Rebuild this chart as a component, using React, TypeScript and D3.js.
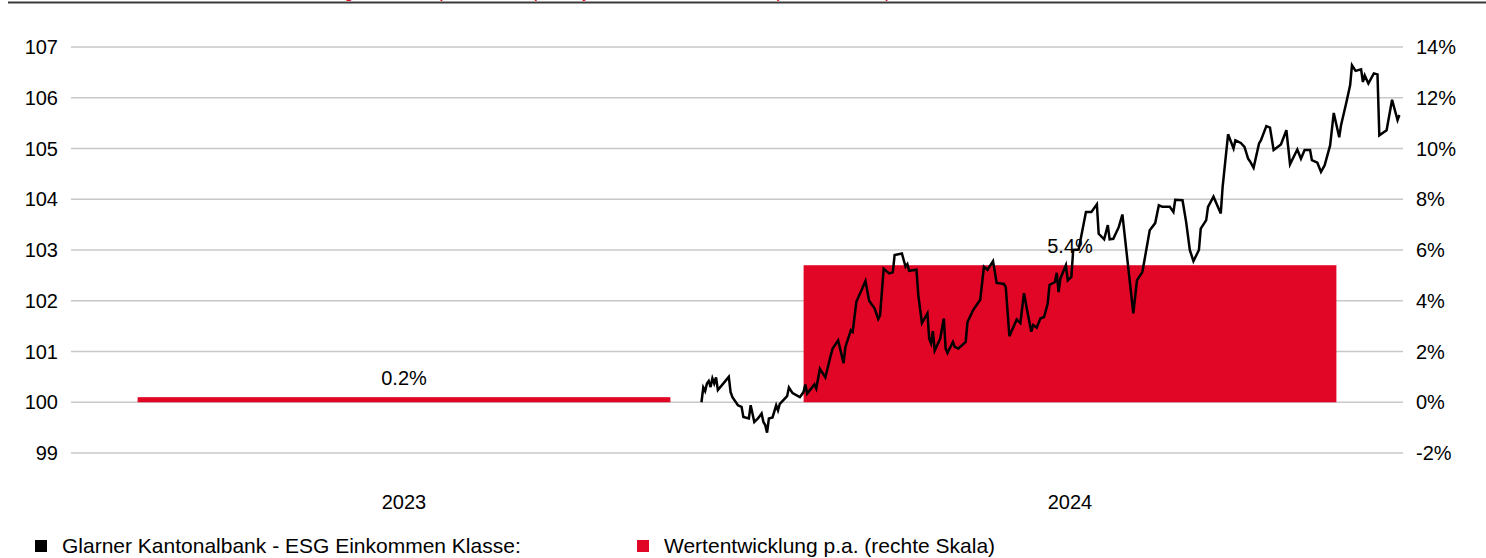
import React from "react";
import * as d3 from "d3";

const W = 1486;
const H = 558;

const titleText = "Wertentwicklung indexiert (linke Skala) und jährliche Performance (rechte Skala)";

const years = ["2023", "2024"];
const yearlyPerf = [0.2, 5.4];
const yearLabels = ["0.2%", "5.4%"];

const leftTicks = [99, 100, 101, 102, 103, 104, 105, 106, 107];
const rightTicks = [-2, 0, 2, 4, 6, 8, 10, 12, 14];

const legendLabels = [
  "Glarner Kantonalbank - ESG Einkommen Klasse:",
  "Wertentwicklung p.a. (rechte Skala)",
];
const legendColors = ["#000000", "#e10625"];

const fundDates = [
  "2023-12-13", "2023-12-14", "2023-12-15", "2023-12-16", "2023-12-17", "2023-12-18",
  "2023-12-19", "2023-12-20", "2023-12-21", "2023-12-22", "2023-12-28", "2023-12-29",
  "2023-12-30", "2024-01-02", "2024-01-04", "2024-01-05", "2024-01-08", "2024-01-09",
  "2024-01-10", "2024-01-11", "2024-01-13", "2024-01-15", "2024-01-16", "2024-01-17",
  "2024-01-18", "2024-01-19", "2024-01-21", "2024-01-23", "2024-01-24", "2024-01-25",
  "2024-01-29", "2024-01-30", "2024-02-01", "2024-02-05", "2024-02-07", "2024-02-08",
  "2024-02-09", "2024-02-13", "2024-02-14", "2024-02-16", "2024-02-19", "2024-02-22",
  "2024-02-23", "2024-02-26", "2024-02-29", "2024-03-01", "2024-03-04", "2024-03-05",
  "2024-03-07", "2024-03-10", "2024-03-12", "2024-03-14", "2024-03-17", "2024-03-19",
  "2024-03-20", "2024-03-22", "2024-03-25", "2024-03-27", "2024-03-28", "2024-04-01",
  "2024-04-03", "2024-04-04", "2024-04-05", "2024-04-09", "2024-04-10", "2024-04-12",
  "2024-04-15", "2024-04-16", "2024-04-17", "2024-04-18", "2024-04-19", "2024-04-22",
  "2024-04-24", "2024-04-25", "2024-04-26", "2024-04-29", "2024-04-30", "2024-05-02",
  "2024-05-06", "2024-05-07", "2024-05-10", "2024-05-14", "2024-05-16", "2024-05-18",
  "2024-05-21", "2024-05-23", "2024-05-27", "2024-05-28", "2024-05-30", "2024-06-03",
  "2024-06-05", "2024-06-07", "2024-06-09", "2024-06-11", "2024-06-12", "2024-06-14",
  "2024-06-16", "2024-06-18", "2024-06-20", "2024-06-21", "2024-06-24", "2024-06-25",
  "2024-06-26", "2024-06-27", "2024-06-30", "2024-07-01", "2024-07-03", "2024-07-04",
  "2024-07-07", "2024-07-11", "2024-07-14", "2024-07-17", "2024-07-18", "2024-07-21",
  "2024-07-23", "2024-07-24", "2024-07-26", "2024-07-29", "2024-07-31", "2024-08-04",
  "2024-08-06", "2024-08-08", "2024-08-11", "2024-08-15", "2024-08-18", "2024-08-20",
  "2024-08-22", "2024-08-26", "2024-08-28", "2024-08-29", "2024-09-02", "2024-09-04",
  "2024-09-06", "2024-09-08", "2024-09-11", "2024-09-12", "2024-09-15", "2024-09-16",
  "2024-09-19", "2024-09-23", "2024-09-24", "2024-09-27", "2024-09-30", "2024-10-01",
  "2024-10-04", "2024-10-06", "2024-10-08", "2024-10-09", "2024-10-11", "2024-10-14",
  "2024-10-15", "2024-10-18", "2024-10-20", "2024-10-22", "2024-10-26", "2024-10-29",
  "2024-10-31", "2024-11-04", "2024-11-06", "2024-11-08", "2024-11-11", "2024-11-12",
  "2024-11-15", "2024-11-17", "2024-11-19", "2024-11-22", "2024-11-24", "2024-11-27",
  "2024-11-28", "2024-12-01", "2024-12-03", "2024-12-04", "2024-12-06", "2024-12-09",
  "2024-12-10", "2024-12-11", "2024-12-13", "2024-12-16", "2024-12-18", "2024-12-19",
  "2024-12-23", "2024-12-26", "2024-12-29", "2024-12-30",
];

const fundValues = [
  100.0, 100.29, 100.22, 100.37, 100.42, 100.3,
  100.47, 100.37, 100.49, 100.24, 100.5, 100.2,
  100.1, 99.94, 99.91, 99.71, 99.68, 99.94,
  99.78, 99.61, 99.68, 99.78, 99.61, 99.55,
  99.4, 99.68, 99.7, 99.94, 99.84, 99.97,
  100.12, 100.29, 100.18, 100.1, 100.2, 100.35,
  100.17, 100.35, 100.27, 100.66, 100.49, 100.93,
  101.06, 101.22, 100.77, 101.09, 101.42, 101.39,
  101.98, 102.22, 102.39, 102.0, 101.85, 101.64,
  101.71, 102.63, 102.54, 102.56, 102.9, 102.93,
  102.67, 102.72, 102.59, 102.61, 102.11, 101.56,
  101.75, 101.25, 101.16, 101.4, 101.02, 101.25,
  101.65, 101.06, 100.97, 101.19, 101.09, 101.06,
  101.19, 101.58, 101.81, 102.02, 102.67, 102.61,
  102.78, 102.35, 102.33, 102.27, 101.3, 101.63,
  101.56, 102.15, 101.76, 101.39, 101.52, 101.47,
  101.65, 101.68, 101.94, 102.31, 102.37, 102.55,
  102.17, 102.44, 102.7, 102.4, 102.47, 103.0,
  103.01, 103.75, 103.75, 103.9, 103.32, 103.21,
  103.49, 103.21, 103.22, 103.45, 103.7, 102.4,
  101.75, 102.4, 102.57, 103.39, 103.53, 103.88,
  103.85, 103.85, 103.75, 103.99, 103.98, 103.55,
  103.0, 102.78, 103.0, 103.42, 103.59, 103.85,
  104.05, 103.72, 104.24, 105.28, 105.0, 105.16,
  105.11, 105.03, 104.8, 104.75, 104.62, 105.1,
  105.16, 105.44, 105.41, 104.97, 105.08, 105.36,
  104.69, 104.98, 104.8, 104.97, 104.97, 104.77,
  104.72, 104.54, 104.67, 105.06, 105.7, 105.22,
  105.46, 105.92, 106.25, 106.64, 106.53, 106.56,
  106.31, 106.44, 106.28, 106.48, 106.46, 105.26,
  105.36, 105.96, 105.56, 105.66,
];

const FONT = "'Liberation Sans', Arial, Helvetica, sans-serif";

export default function App() {
  const left = 71;
  const right = 1403;
  const top = 47;
  const bottom = 453;

  const parse = d3.timeParse("%Y-%m-%d");
  const xTime = d3
    .scaleTime()
    .domain([parse("2023-01-01")!, parse("2025-01-01")!])
    .range([left, right]);
  const xBand = d3
    .scaleBand<string>()
    .domain(years)
    .range([left, right])
    .paddingInner(0.2)
    .paddingOuter(0.1);
  const yL = d3.scaleLinear().domain([99, 107]).range([bottom, top]);
  const yR = d3.scaleLinear().domain([-2, 14]).range([bottom, top]);

  const pts = fundDates.map((d, i) => [parse(d)!, fundValues[i]] as [Date, number]);
  const line = d3
    .line<[Date, number]>()
    .x((d) => xTime(d[0]))
    .y((d) => yL(d[1]));

  const fs = 20;

  return (
    <svg
      width={W}
      height={H}
      style={{ position: "absolute", left: 0, top: 0, background: "#fff" }}
      fontFamily={FONT}
    >
      <rect x={0} y={0} width={W} height={H} fill="#fff" />
      <text x={215} y={-3.5} fontSize={19} fill="#e10625">
        {titleText}
      </text>
      <line x1={8} x2={W} y1={2.5} y2={2.5} stroke="#3a3a3a" strokeWidth={2} />

      {leftTicks.map((t) => (
        <line
          key={"g" + t}
          x1={left}
          x2={right}
          y1={yL(t)}
          y2={yL(t)}
          stroke="#c8c8c8"
          strokeWidth={1.5}
        />
      ))}
      {leftTicks.map((t) => (
        <text
          key={"l" + t}
          x={58}
          y={yL(t)}
          dy="0.35em"
          textAnchor="end"
          fontSize={fs}
          fill="#000"
        >
          {t}
        </text>
      ))}
      {rightTicks.map((t) => (
        <text
          key={"r" + t}
          x={1416}
          y={yR(t)}
          dy="0.35em"
          textAnchor="start"
          fontSize={fs}
          fill="#000"
        >
          {t + "%"}
        </text>
      ))}

      {years.map((yr, i) => {
        const v = yearlyPerf[i];
        const y0 = yR(0);
        const y1 = yR(v);
        return (
          <g key={yr}>
            <rect
              x={xBand(yr)!}
              y={Math.min(y0, y1)}
              width={xBand.bandwidth()}
              height={Math.abs(y0 - y1)}
              fill="#e10625"
            />
            <text
              x={xBand(yr)! + xBand.bandwidth() / 2}
              y={y1 - 12}
              textAnchor="middle"
              fontSize={fs}
              fill="#000"
            >
              {yearLabels[i]}
            </text>
            <text
              x={xBand(yr)! + xBand.bandwidth() / 2}
              y={509}
              textAnchor="middle"
              fontSize={fs}
              fill="#000"
            >
              {yr}
            </text>
          </g>
        );
      })}

      <path d={line(pts)!} fill="none" stroke="#000" strokeWidth={2.5} />

      {legendLabels.map((lab, i) => {
        const lx = i === 0 ? 35 : 637;
        return (
          <g key={lab}>
            <rect x={lx} y={540} width={12} height={12} fill={legendColors[i]} />
            <text x={lx + 27} y={553} fontSize={21} fill="#000">
              {lab}
            </text>
          </g>
        );
      })}
    </svg>
  );
}
